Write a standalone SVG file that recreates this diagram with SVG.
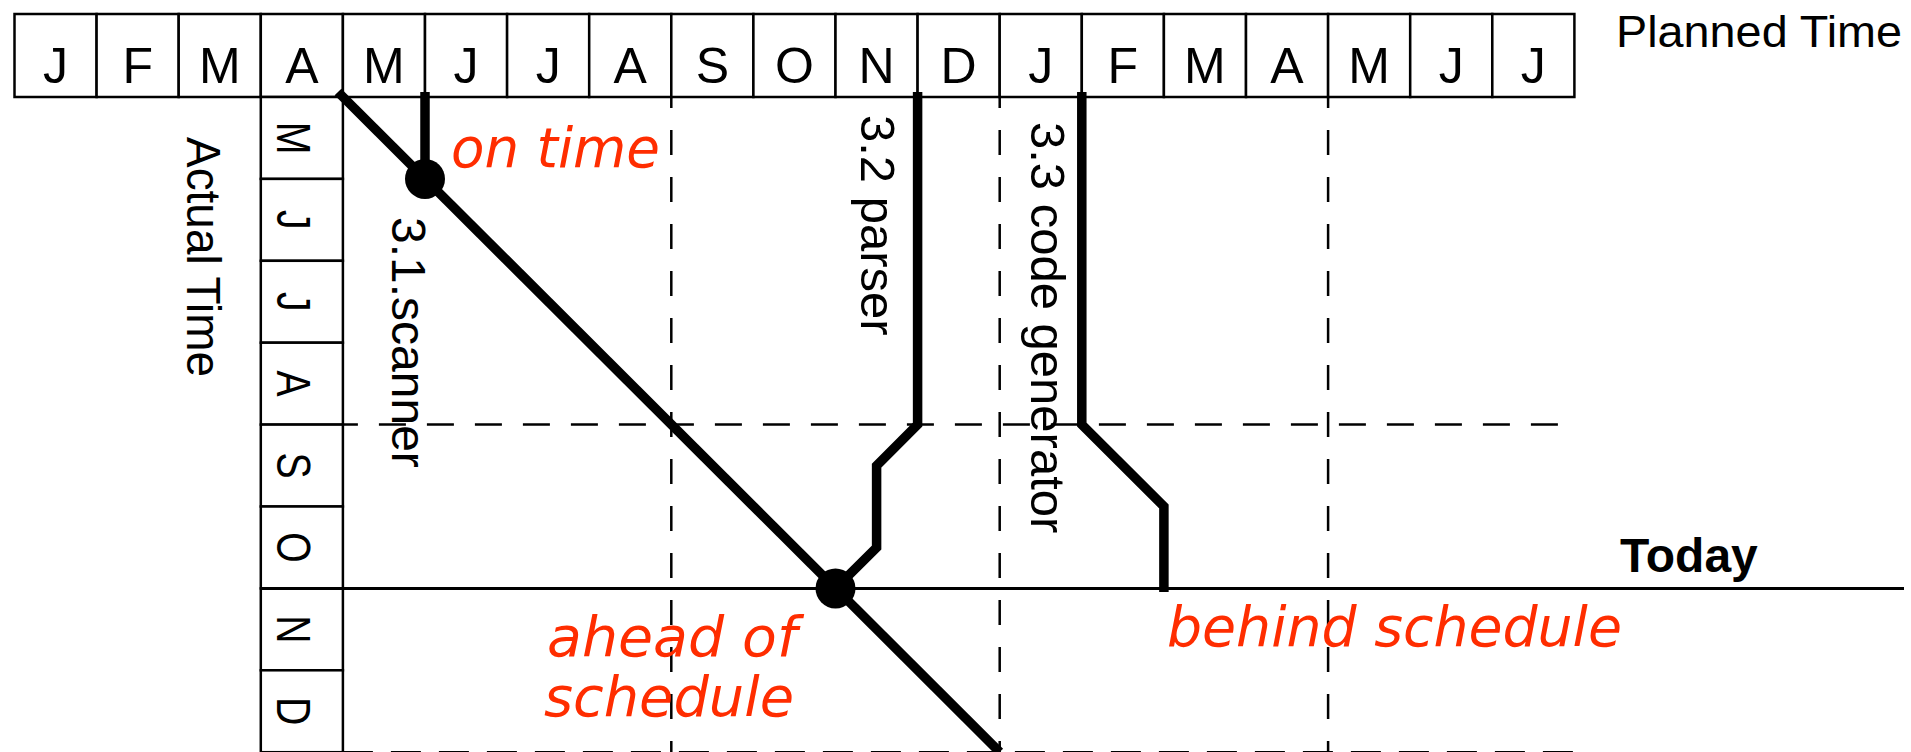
<svg xmlns="http://www.w3.org/2000/svg" width="1911" height="752" viewBox="0 0 1911 752">
<style>
.cell{fill:#fff;stroke:#000;stroke-width:2.5}
.mon{font-family:"Liberation Sans",Arial,sans-serif;font-size:50px;fill:#000;text-anchor:middle}
.rmon{font-family:"Liberation Sans",Arial,sans-serif;font-size:49px;fill:#000;text-anchor:middle}
.lbl{font-family:"Liberation Sans",Arial,sans-serif;font-size:48px;fill:#000}
.red{font-family:"DejaVu Sans",sans-serif;font-style:italic;font-size:56px;fill:#ff2d00}
.dash{stroke:#000;stroke-width:2.5;fill:none;stroke-dasharray:25 22}
.thick{stroke:#000;stroke-width:9.5;fill:none;stroke-linejoin:miter;stroke-linecap:butt}
</style>
<rect width="1911" height="752" fill="#fff"/>

<g id="planned-header">
<rect class="cell" x="14.5" y="14" width="82.1" height="83"/>
<rect class="cell" x="96.6" y="14" width="82.1" height="83"/>
<rect class="cell" x="178.7" y="14" width="82.1" height="83"/>
<rect class="cell" x="260.8" y="14" width="82.1" height="83"/>
<rect class="cell" x="342.9" y="14" width="82.1" height="83"/>
<rect class="cell" x="425" y="14" width="82.1" height="83"/>
<rect class="cell" x="507.1" y="14" width="82.1" height="83"/>
<rect class="cell" x="589.2" y="14" width="82.1" height="83"/>
<rect class="cell" x="671.3" y="14" width="82.1" height="83"/>
<rect class="cell" x="753.4" y="14" width="82.1" height="83"/>
<rect class="cell" x="835.5" y="14" width="82.1" height="83"/>
<rect class="cell" x="917.6" y="14" width="82.1" height="83"/>
<rect class="cell" x="999.7" y="14" width="82.1" height="83"/>
<rect class="cell" x="1081.8" y="14" width="82.1" height="83"/>
<rect class="cell" x="1163.9" y="14" width="82.1" height="83"/>
<rect class="cell" x="1246" y="14" width="82.1" height="83"/>
<rect class="cell" x="1328.1" y="14" width="82.1" height="83"/>
<rect class="cell" x="1410.2" y="14" width="82.1" height="83"/>
<rect class="cell" x="1492.3" y="14" width="82.1" height="83"/>
<text class="mon" x="55.55" y="82.5">J</text>
<text class="mon" x="137.65" y="82.5">F</text>
<text class="mon" x="219.75" y="82.5">M</text>
<text class="mon" x="301.85" y="82.5">A</text>
<text class="mon" x="383.95" y="82.5">M</text>
<text class="mon" x="466.05" y="82.5">J</text>
<text class="mon" x="548.15" y="82.5">J</text>
<text class="mon" x="630.25" y="82.5">A</text>
<text class="mon" x="712.35" y="82.5">S</text>
<text class="mon" x="794.45" y="82.5">O</text>
<text class="mon" x="876.55" y="82.5">N</text>
<text class="mon" x="958.65" y="82.5">D</text>
<text class="mon" x="1040.75" y="82.5">J</text>
<text class="mon" x="1122.85" y="82.5">F</text>
<text class="mon" x="1204.95" y="82.5">M</text>
<text class="mon" x="1287.05" y="82.5">A</text>
<text class="mon" x="1369.15" y="82.5">M</text>
<text class="mon" x="1451.25" y="82.5">J</text>
<text class="mon" x="1533.35" y="82.5">J</text>
<text class="lbl" x="1616" y="46.5" font-size="45" style="font-size:45px" textLength="286" lengthAdjust="spacingAndGlyphs">Planned Time</text>
</g>

<g id="actual-column">
<rect class="cell" x="260.8" y="97" width="82.1" height="81.9"/>
<rect class="cell" x="260.8" y="178.9" width="82.1" height="81.9"/>
<rect class="cell" x="260.8" y="260.8" width="82.1" height="81.9"/>
<rect class="cell" x="260.8" y="342.7" width="82.1" height="81.9"/>
<rect class="cell" x="260.8" y="424.6" width="82.1" height="81.9"/>
<rect class="cell" x="260.8" y="506.5" width="82.1" height="81.9"/>
<rect class="cell" x="260.8" y="588.4" width="82.1" height="81.9"/>
<rect class="cell" x="260.8" y="670.3" width="82.1" height="81.9"/>
<text class="rmon" transform="translate(277 137.95) rotate(90) scale(0.8 1)">M</text>
<text class="rmon" transform="translate(277 219.85) rotate(90) scale(0.8 1)">J</text>
<text class="rmon" transform="translate(277 301.75) rotate(90) scale(0.8 1)">J</text>
<text class="rmon" transform="translate(277 383.65) rotate(90) scale(0.8 1)">A</text>
<text class="rmon" transform="translate(277 465.55) rotate(90) scale(0.8 1)">S</text>
<text class="rmon" transform="translate(277 547.45) rotate(90) scale(0.8 1)">O</text>
<text class="rmon" transform="translate(277 629.35) rotate(90) scale(0.8 1)">N</text>
<text class="rmon" transform="translate(277 711.25) rotate(90) scale(0.8 1)">D</text>
<text class="lbl" transform="translate(187 137) rotate(90)" textLength="240" lengthAdjust="spacingAndGlyphs">Actual Time</text>
</g>

<g id="grid">
<line class="dash" x1="671.3" y1="97" x2="671.3" y2="752" stroke-dashoffset="14"/>
<line class="dash" x1="999.7" y1="97" x2="999.7" y2="752" stroke-dashoffset="14"/>
<line class="dash" x1="1328.1" y1="97" x2="1328.1" y2="752" stroke-dashoffset="14"/>
<line class="dash" x1="342.9" y1="424.6" x2="1577" y2="424.6" style="stroke-dasharray:27 21" stroke-dashoffset="12"/>
<line class="dash" x1="342.9" y1="752.2" x2="1577" y2="752.2" style="stroke-dasharray:30 18"/>
</g>

<g id="today">
<line x1="260.8" y1="588.4" x2="1904" y2="588.4" stroke="#000" stroke-width="3"/>
<text class="lbl" x="1620" y="571.5" font-weight="bold" style="font-weight:bold">Today</text>
</g>

<g id="connectors">
<path class="thick" d="M338 92 L999.7 752"/>
<path class="thick" d="M425 92 L425 178.9"/>
<path class="thick" d="M917.6 92 L917.6 424.6 L876.6 465.6 L876.6 547.5 L835.5 588.4"/>
<path class="thick" d="M1081.8 92 L1081.8 424.6 L1163.9 506.5 L1163.9 592"/>
</g>

<g id="milestone-ontime">
<circle cx="425" cy="178.9" r="20" fill="#000"/>
<text class="red" x="451" y="167" textLength="209" lengthAdjust="spacingAndGlyphs">on time</text>
</g>
<g id="milestone-today">
<circle cx="835.5" cy="588.4" r="20" fill="#000"/>
</g>

<g id="task-labels">
<text class="lbl" transform="translate(392 217) rotate(90)">3.1.scanner</text>
<text class="lbl" transform="translate(861 115) rotate(90)" style="font-size:49px">3.2 parser</text>
<text class="lbl" transform="translate(1031 122) rotate(90)" style="font-size:49px">3.3 code generator</text>
</g>

<g id="status-labels">
<text class="red" x="547" y="656" textLength="250" lengthAdjust="spacingAndGlyphs">ahead of</text>
<text class="red" x="544" y="716" textLength="250" lengthAdjust="spacingAndGlyphs">schedule</text>
<text class="red" x="1167" y="646" textLength="455" lengthAdjust="spacingAndGlyphs">behind schedule</text>
</g>
</svg>
